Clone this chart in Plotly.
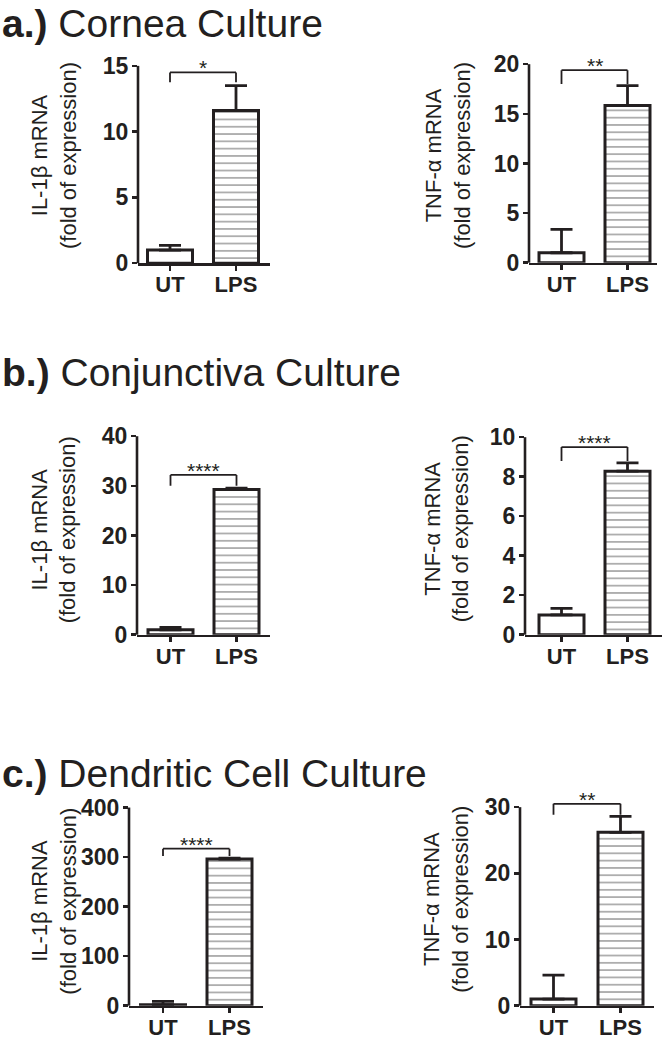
import plotly.graph_objects as go

W, H = 664, 1047

# ---------------- data ----------------
categories = ["UT", "LPS"]

il1b_cornea_mean = [1.0, 11.6]
il1b_cornea_err = [0.35, 1.9]
tnf_cornea_mean = [1.0, 15.85]
tnf_cornea_err = [2.35, 2.0]

il1b_conj_mean = [1.0, 29.25]
il1b_conj_err = [0.5, 0.3]
tnf_conj_mean = [1.0, 8.28]
tnf_conj_err = [0.33, 0.42]

il1b_dc_mean = [2.0, 296.0]
il1b_dc_err = [6.5, 2.0]
tnf_dc_mean = [1.0, 26.2]
tnf_dc_err = [3.6, 2.4]

significance = ["*", "**", "****", "****", "****", "**"]
bracket_top = [14.5, 19.4, 32.2, 9.5, 317, 30.5]
bracket_bottom = [13.75, 18.0, 30.0, 8.8, 302, 28.85]

y_max = [15, 20, 40, 10, 400, 30]
y_step = [5, 5, 10, 2, 100, 10]

y_labels = ["IL-1β mRNA", "TNF-α mRNA"] * 3
section_titles = [("a.)", "Cornea Culture"),
                  ("b.)", "Conjunctiva Culture"),
                  ("c.)", "Dendritic Cell Culture")]

means = [il1b_cornea_mean, tnf_cornea_mean, il1b_conj_mean,
         tnf_conj_mean, il1b_dc_mean, tnf_dc_mean]
errs = [il1b_cornea_err, tnf_cornea_err, il1b_conj_err,
        tnf_conj_err, il1b_dc_err, tnf_dc_err]

# ---------------- layout geometry (pixels) ----------------
# y-axis x, right end of x-axis, UT centre, LPS centre, top tick y, zero y
boxes = [
    (138, 270, 170.0, 236.0, 66.7, 266.5),
    (529, 657, 561.5, 627.5, 65.0, 266.0),
    (137, 270, 170.5, 236.5, 441.7, 642.7),
    (525, 662, 561.5, 627.5, 442.7, 642.7),
    (129, 263, 163.0, 229.5, 817.7, 1018.3),
    (520, 654, 553.5, 620.5, 817.3, 1018.3),
]
ytitle_pos = [(54, 158), (448, 157), (54, 537), (447, 536), (54, 913), (446, 911)]
section_title_y = [20, 377, 783]
HEAD = 1.08  # extra range above the top tick

FONT = "Arial, 'Liberation Sans', sans-serif"
INK = "#231f20"

fig = go.Figure()
layout = dict(
    width=W, height=H, margin=dict(l=0, r=0, t=0, b=0),
    paper_bgcolor="white", plot_bgcolor="white",
    showlegend=False, shapes=[], annotations=[],
)

for i in range(6):
    n = "" if i == 0 else str(i + 1)
    xa, ya = "x" + n, "y" + n
    xl, xr, cu, cl, yt, yb = boxes[i]
    step = cl - cu
    ppu = (yb - yt) / y_max[i]
    ytop_px = yb - y_max[i] * HEAD * ppu

    fig.add_trace(go.Bar(
        x=[0, 1], y=means[i], xaxis=xa, yaxis=ya,
        width=45 / step,
        marker=dict(color="white", line=dict(color=INK, width=3),
                    pattern=dict(shape=["", "-"], fgcolor="#333333",
                                 bgcolor="white", size=7.3, solidity=0.2)),
        error_y=dict(type="data", symmetric=False, array=errs[i],
                     arrayminus=[0, 0], color=INK, thickness=2.8, width=11),
        hoverinfo="skip",
    ))

    layout["xaxis" + n] = dict(
        domain=[xl / W, xr / W], anchor=ya,
        range=[(xl - cu) / step, (xr - cu) / step],
        tickmode="array", tickvals=[0, 1], ticktext=categories,
        ticks="outside", ticklen=5, tickwidth=2.5, tickcolor=INK,
        ticklabelstandoff=-5,
        showline=True, linecolor=INK, linewidth=2.6,
        showgrid=False, zeroline=False, fixedrange=True,
        tickfont=dict(family=FONT, size=22, color=INK, weight="bold"),
    )
    layout["yaxis" + n] = dict(
        domain=[1 - yb / H, 1 - ytop_px / H], anchor=xa,
        range=[0, y_max[i] * HEAD],
        tickmode="array",
        tickvals=list(range(0, y_max[i] + 1, y_step[i])),
        ticks="outside", ticklen=5, tickwidth=2.5, tickcolor=INK,
        ticklabelstandoff=-1,
        showline=False, showgrid=False, zeroline=False, fixedrange=True,
        tickfont=dict(family=FONT, size=23, color=INK, weight="bold"),
    )
    # y-axis line ending at the top tick
    layout["shapes"].append(dict(
        type="line", xref=xa + " domain", yref=ya + " domain",
        x0=0, x1=0, y0=0, y1=1 / HEAD,
        line=dict(color=INK, width=2.6)))
    # significance bracket
    for (x0, y0, x1, y1) in [(0, bracket_top[i], 1, bracket_top[i]),
                             (0, bracket_bottom[i], 0, bracket_top[i]),
                             (1, bracket_bottom[i], 1, bracket_top[i])]:
        layout["shapes"].append(dict(
            type="line", xref=xa, yref=ya, x0=x0, x1=x1, y0=y0, y1=y1,
            line=dict(color=INK, width=1.8)))
    layout["annotations"].append(dict(
        xref=xa, yref=ya, x=0.5, y=bracket_top[i], text=significance[i],
        showarrow=False, xanchor="center", yanchor="bottom", yshift=-9,
        font=dict(family=FONT, size=21, color=INK)))
    # y title
    tx, ty = ytitle_pos[i]
    layout["annotations"].append(dict(
        xref="paper", yref="paper", x=tx / W, y=1 - ty / H,
        text=y_labels[i] + "<br>(fold of expression)", textangle=-90,
        showarrow=False, xanchor="center", yanchor="middle",
        font=dict(family=FONT, size=22, color=INK)))

for k, (lab, name) in enumerate(section_titles):
    ann = dict(
        xref="paper", yref="paper", x=0,
        text="<b>" + lab + "</b> " + name, showarrow=False,
        xanchor="left", yanchor="middle", y=1 - section_title_y[k] / H,
        font=dict(family=FONT, size=39, color=INK))
    if k == 0:
        ann.update(y=1, yanchor="top")
    layout["annotations"].append(ann)

fig.update_layout(**layout)
fig.write_html("out.html",
               config={"displayModeBar": False, "staticPlot": True},
               post_script="document.body.style.margin='0';"
                           "document.body.style.overflow='hidden';")
